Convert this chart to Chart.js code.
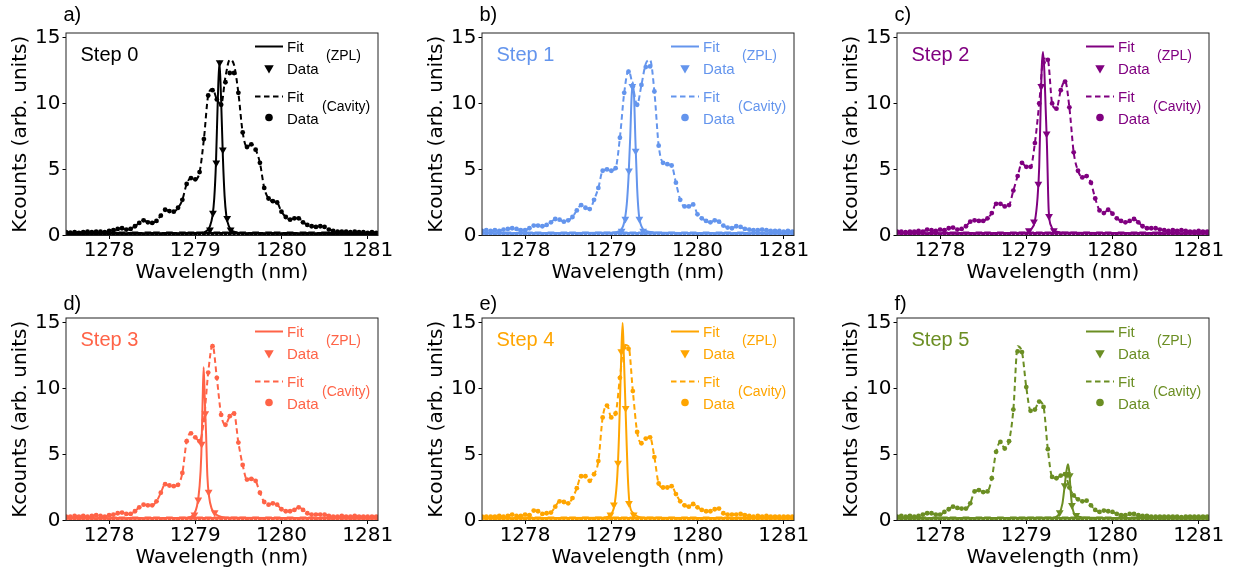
<!DOCTYPE html>
<html><head><meta charset="utf-8">
<script src="https://cdn.jsdelivr.net/npm/chart.js@4.4.1/dist/chart.umd.min.js"></script>
<style>
html,body{margin:0;padding:0;background:#fff;}
body{width:1234px;height:571px;position:relative;overflow:hidden;}
canvas{position:absolute;}
</style></head><body>
<canvas id="c0" width="400" height="285" style="left:0px;top:0px"></canvas>
<canvas id="c1" width="400" height="285" style="left:416px;top:0px"></canvas>
<canvas id="c2" width="400" height="285" style="left:831px;top:0px"></canvas>
<canvas id="c3" width="400" height="285" style="left:0px;top:285px"></canvas>
<canvas id="c4" width="400" height="285" style="left:416px;top:285px"></canvas>
<canvas id="c5" width="400" height="285" style="left:831px;top:285px"></canvas>
<script>
// ---------- data ----------
const panelLabels = ['a)','b)','c)','d)','e)','f)'];
const stepLabels = ['Step 0','Step 1','Step 2','Step 3','Step 4','Step 5'];
const xTicks = [1278,1279,1280,1281];
const yTicks = [0,5,10,15];
const xTitle = 'Wavelength (nm)';
const yTitle = 'Kcounts (arb. units)';
const legendFit = 'Fit', legendData = 'Data', legendZPL = '(ZPL)', legendCavity = '(Cavity)';

const wavelength = [1277.5,1277.55,1277.6,1277.65,1277.7,1277.75,1277.8,1277.85,1277.9,1277.95,
 1278,1278.05,1278.1,1278.15,1278.2,1278.25,1278.3,1278.35,1278.4,1278.45,
 1278.5,1278.55,1278.6,1278.65,1278.7,1278.75,1278.8,1278.85,1278.9,1278.95,
 1279,1279.05,1279.1,1279.15,1279.2,1279.25,1279.3,1279.35,1279.4,1279.45,
 1279.5,1279.55,1279.6,1279.65,1279.7,1279.75,1279.8,1279.85,1279.9,1279.95,
 1280,1280.05,1280.1,1280.15,1280.2,1280.25,1280.3,1280.35,1280.4,1280.45,
 1280.5,1280.55,1280.6,1280.65,1280.7,1280.75,1280.8,1280.85,1280.9,1280.95,
 1281,1281.05,1281.1];

// ZPL spectrum away from the line (baseline counts, same grid)
const zplBaseline = [0.15,0.12,0.15,0.1,0.15,0.12,0.15,0.1,0.12,0.15,
 0.1,0.15,0.12,0.15,0.1,0.12,0.15,0.12,0.1,0.15,
 0.12,0.15,0.1,0.12,0.15,0.12,0.1,0.15,0.12,0.15,
 0.12,0.15,0.12,0.15,0.12,0.15,0.12,0.15,0.12,0.15,
 0.12,0.15,0.1,0.12,0.15,0.12,0.1,0.15,0.12,0.15,
 0.1,0.12,0.15,0.12,0.1,0.15,0.12,0.15,0.1,0.12,
 0.15,0.12,0.1,0.15,0.12,0.15,0.1,0.12,0.15,0.12,
 0.1,0.15,0.12];

const cavData0 = [0.25,0.22,0.25,0.2,0.25,0.3,0.25,0.3,0.3,0.25,
 0.35,0.4,0.5,0.55,0.45,0.5,0.7,0.95,1.15,1.0,
 0.95,1.1,1.5,1.95,1.85,1.8,2.1,2.7,3.9,4.35,
 4.25,4.8,7.3,10.6,11.0,10.3,9.9,11.6,12.3,12.3,
 10.8,7.8,6.7,6.9,6.5,5.5,3.6,2.8,2.6,2.5,
 1.8,1.4,1.2,1.3,1.3,1.0,0.8,0.7,0.65,0.7,
 0.65,0.45,0.35,0.3,0.3,0.3,0.25,0.3,0.25,0.25,
 0.2,0.25,0.2];
const cavFit0 = [0.25,0.22,0.25,0.2,0.25,0.3,0.25,0.3,0.3,0.25,
 0.35,0.4,0.5,0.55,0.45,0.5,0.7,0.95,1.15,1.0,
 0.95,1.1,1.5,1.95,1.85,1.8,2.1,2.7,3.9,4.35,
 4.25,4.8,7.3,10.6,11.1,10.3,9.9,12.0,13.3,12.9,
 10.8,7.8,6.7,6.9,6.5,5.5,3.6,2.8,2.6,2.5,
 1.8,1.4,1.2,1.3,1.3,1.0,0.8,0.7,0.65,0.7,
 0.65,0.45,0.35,0.3,0.3,0.3,0.25,0.3,0.25,0.25,
 0.2,0.25,0.2];

const cavData1 = [0.35,0.4,0.35,0.4,0.35,0.45,0.5,0.55,0.5,0.4,
 0.4,0.55,0.75,0.75,0.7,0.8,1.0,1.25,1.2,1.05,
 1.15,1.4,1.9,2.3,2.1,2.0,2.7,3.6,4.9,5.0,
 4.9,5.1,7.4,10.8,12.4,11.3,9.9,11.4,12.75,12.8,
 10.9,6.8,5.5,5.4,5.3,4.0,2.7,2.2,2.2,2.35,
 1.6,1.3,1.1,1.0,1.15,1.05,0.75,0.6,0.55,0.7,
 0.65,0.5,0.45,0.4,0.4,0.45,0.4,0.35,0.35,0.35,
 0.3,0.35,0.3];
const cavFit1 = [0.35,0.4,0.35,0.4,0.35,0.45,0.5,0.55,0.5,0.4,
 0.4,0.55,0.75,0.75,0.7,0.8,1.0,1.25,1.2,1.05,
 1.15,1.4,1.9,2.3,2.1,2.0,2.7,3.6,4.9,5.0,
 4.9,5.1,7.4,10.8,12.5,11.3,9.9,11.4,13.0,13.3,
 10.9,6.8,5.5,5.4,5.3,4.0,2.7,2.2,2.2,2.35,
 1.6,1.3,1.1,1.0,1.15,1.05,0.75,0.6,0.55,0.7,
 0.65,0.5,0.45,0.4,0.4,0.45,0.4,0.35,0.35,0.35,
 0.3,0.35,0.3];

const cavData2 = [0.3,0.3,0.25,0.3,0.3,0.35,0.3,0.45,0.4,0.35,
 0.45,0.4,0.55,0.6,0.45,0.5,0.7,1.05,1.15,1.1,
 1.1,1.3,1.7,2.4,2.4,2.2,2.3,3.4,4.5,5.5,
 5.2,5.2,7.0,10.0,13.1,13.3,10.0,9.6,11.0,11.65,
 9.7,6.3,4.9,4.4,4.5,4.0,2.8,1.9,1.7,1.95,
 1.65,1.3,1.1,1.0,1.1,1.25,1.0,0.7,0.55,0.55,
 0.55,0.45,0.4,0.35,0.4,0.35,0.4,0.35,0.3,0.3,
 0.35,0.3,0.3];
const cavFit2 = [0.3,0.3,0.25,0.3,0.3,0.35,0.3,0.45,0.4,0.35,
 0.45,0.4,0.55,0.6,0.45,0.5,0.7,1.05,1.15,1.1,
 1.1,1.3,1.7,2.4,2.4,2.2,2.3,3.4,4.5,5.5,
 5.2,5.2,7.0,10.0,13.4,13.3,10.0,9.6,11.0,11.7,
 9.7,6.3,4.9,4.4,4.5,4.0,2.8,1.9,1.7,1.95,
 1.65,1.3,1.1,1.0,1.1,1.25,1.0,0.7,0.55,0.55,
 0.55,0.45,0.4,0.35,0.4,0.35,0.4,0.35,0.3,0.3,
 0.35,0.3,0.3];

const cavData3 = [0.3,0.3,0.35,0.3,0.35,0.3,0.35,0.4,0.35,0.3,
 0.4,0.45,0.55,0.6,0.5,0.5,0.7,1.0,1.2,1.15,
 1.15,1.45,2.1,2.75,2.65,2.6,2.7,3.6,6.0,6.6,
 6.3,6.0,7.6,11.2,13.2,10.8,8.0,7.25,7.9,8.1,
 5.9,4.2,3.1,3.15,3.0,2.1,1.4,1.2,1.3,1.2,
 0.85,0.7,0.7,0.8,1.0,0.8,0.55,0.45,0.45,0.45,
 0.45,0.35,0.3,0.3,0.35,0.3,0.3,0.35,0.3,0.3,
 0.3,0.3,0.3];
const cavFit3 = [0.3,0.3,0.35,0.3,0.35,0.3,0.35,0.4,0.35,0.3,
 0.4,0.45,0.55,0.6,0.5,0.5,0.7,1.0,1.2,1.15,
 1.15,1.45,2.1,2.75,2.65,2.6,2.7,3.6,6.0,6.6,
 6.3,6.0,7.6,11.2,13.3,10.8,8.0,7.25,7.9,8.1,
 5.9,4.2,3.1,3.15,3.0,2.1,1.4,1.2,1.3,1.2,
 0.85,0.7,0.7,0.8,1.0,0.8,0.55,0.45,0.45,0.45,
 0.45,0.35,0.3,0.3,0.35,0.3,0.3,0.35,0.3,0.3,
 0.3,0.3,0.3];

const cavData4 = [0.3,0.3,0.3,0.3,0.35,0.3,0.35,0.45,0.35,0.35,
 0.45,0.4,0.75,0.7,0.5,0.55,0.6,1.05,1.45,1.4,
 1.3,1.7,2.45,3.35,3.35,3.0,3.5,4.5,7.8,8.7,
 7.8,8.1,10.8,13.1,13.0,9.8,6.7,5.85,6.2,6.3,
 4.8,2.8,2.5,2.5,2.6,2.0,1.45,1.15,1.05,1.25,
 1.0,0.8,0.7,0.7,0.85,0.9,0.55,0.45,0.45,0.45,
 0.5,0.4,0.35,0.3,0.35,0.3,0.35,0.3,0.3,0.3,
 0.3,0.3,0.3];
const cavFit4 = [0.3,0.3,0.3,0.3,0.35,0.3,0.35,0.45,0.35,0.35,
 0.45,0.4,0.75,0.7,0.5,0.55,0.6,1.05,1.45,1.4,
 1.3,1.7,2.45,3.35,3.35,3.0,3.5,4.5,7.8,8.75,
 7.8,8.1,10.8,13.3,13.2,9.8,6.7,5.85,6.2,6.3,
 4.8,2.8,2.5,2.5,2.6,2.0,1.45,1.15,1.05,1.25,
 1.0,0.8,0.7,0.7,0.85,0.9,0.55,0.45,0.45,0.45,
 0.5,0.4,0.35,0.3,0.35,0.3,0.35,0.3,0.3,0.3,
 0.3,0.3,0.3];

const cavData5 = [0.3,0.35,0.3,0.35,0.3,0.35,0.45,0.55,0.55,0.45,
 0.45,0.65,0.85,1.05,0.95,0.9,0.9,1.3,2.2,2.3,
 2.15,2.2,3.2,5.2,5.95,5.45,6.0,8.4,12.8,12.75,
 10.1,8.3,8.4,9.0,8.6,5.4,3.3,3.2,3.4,3.5,
 2.5,1.9,1.6,1.45,1.5,1.15,0.8,0.65,0.75,0.7,
 0.65,0.5,0.4,0.4,0.5,0.5,0.4,0.35,0.35,0.3,
 0.3,0.3,0.3,0.3,0.3,0.3,0.25,0.3,0.3,0.3,
 0.3,0.3,0.3];
const cavFit5 = [0.3,0.35,0.3,0.35,0.3,0.35,0.45,0.55,0.55,0.45,
 0.45,0.65,0.85,1.05,0.95,0.9,0.9,1.3,2.2,2.3,
 2.15,2.2,3.2,5.2,5.95,5.45,6.0,8.4,13.2,12.75,
 10.1,8.3,8.4,9.0,8.6,5.4,3.3,3.2,3.4,3.5,
 2.5,1.9,1.6,1.45,1.5,1.15,0.8,0.65,0.75,0.7,
 0.65,0.5,0.4,0.4,0.5,0.5,0.4,0.35,0.35,0.3,
 0.3,0.3,0.3,0.3,0.3,0.3,0.25,0.3,0.3,0.3,
 0.3,0.3,0.3];

const zplDataX0 = [1279.17,1279.205,1279.244,1279.283,1279.32,1279.37,1279.41];
const zplDataY0 = [0.43,1.7,5.5,13.1,6.5,1.3,0.43];
const zplDataX1 = [1279.12,1279.163,1279.205,1279.244,1279.283,1279.326,1279.37];
const zplDataY1 = [0.35,1.25,4.9,11.3,6.4,1.25,0.35];
const zplDataX2 = [1279.03,1279.089,1279.14,1279.174,1279.236,1279.264,1279.32];
const zplDataY2 = [0.38,1.05,3.9,11.3,7.7,1.45,0.38];
const zplDataX3 = [1278.99,1279.035,1279.074,1279.116,1279.155,1279.225];
const zplDataY3 = [0.43,1.57,5.8,8.1,2.15,0.6];
const zplDataX4 = [1278.99,1279.03,1279.078,1279.116,1279.167,1279.205,1279.26];
const zplDataY4 = [0.43,1.2,4.35,12.8,8.5,1.3,0.43];
const zplDataX5 = [1279.388,1279.446,1279.473,1279.504,1279.53,1279.58];
const zplDataY5 = [0.6,2.65,3.5,3.4,1.15,0.4];

const zplFitX0 = [1277.5,1279.0,1279.12,1279.17,1279.2,1279.22,1279.24,1279.26,1279.28,1279.3,1279.32,1279.34,1279.36,1279.39,1279.44,1279.6,1281.1];
const zplFitY0 = [0.12,0.15,0.3,0.7,1.5,2.8,5.5,10.0,13.2,10.2,6.0,3.0,1.5,0.7,0.3,0.15,0.12];
const zplFitX1 = [1277.5,1279.0,1279.1,1279.15,1279.18,1279.2,1279.22,1279.235,1279.25,1279.265,1279.28,1279.3,1279.32,1279.35,1279.4,1279.6,1281.1];
const zplFitY1 = [0.15,0.2,0.35,1.0,2.4,4.4,7.5,10.4,11.6,10.4,7.2,3.6,1.6,0.7,0.35,0.2,0.15];
const zplFitX2 = [1277.5,1279.0,1279.06,1279.1,1279.13,1279.15,1279.17,1279.18,1279.194,1279.21,1279.225,1279.24,1279.26,1279.29,1279.34,1279.5,1281.1];
const zplFitY2 = [0.15,0.2,0.5,1.1,2.8,5.2,10.6,12.8,13.9,12.4,9.6,6.8,1.9,0.7,0.3,0.2,0.15];
const zplFitX3 = [1277.5,1278.9,1278.98,1279.02,1279.05,1279.07,1279.085,1279.097,1279.11,1279.125,1279.14,1279.16,1279.19,1279.24,1279.4,1281.1];
const zplFitY3 = [0.15,0.2,0.45,1.1,2.6,5.0,9.0,11.6,9.2,6.6,3.4,1.8,0.9,0.45,0.2,0.15];
const zplFitX4 = [1277.5,1278.9,1279.0,1279.04,1279.07,1279.09,1279.105,1279.118,1279.132,1279.145,1279.16,1279.175,1279.19,1279.21,1279.25,1279.4,1281.1];
const zplFitY4 = [0.15,0.2,0.5,1.3,3.4,6.5,10.0,13.0,14.95,12.6,9.6,6.5,3.6,1.4,0.6,0.2,0.15];
const zplFitX5 = [1277.5,1279.3,1279.38,1279.42,1279.445,1279.465,1279.484,1279.5,1279.515,1279.53,1279.55,1279.6,1279.75,1281.1];
const zplFitY5 = [0.15,0.2,0.5,1.3,2.6,3.7,4.25,3.6,2.2,1.2,0.6,0.3,0.2,0.15];

const panelColors = ['#000000','#6495ED','#800080','#FF6347','#FFA500','#6B8E23'];

// ---------- assembly ----------
const cavData = [cavData0,cavData1,cavData2,cavData3,cavData4,cavData5];
const cavFit = [cavFit0,cavFit1,cavFit2,cavFit3,cavFit4,cavFit5];
const zplDataX = [zplDataX0,zplDataX1,zplDataX2,zplDataX3,zplDataX4,zplDataX5];
const zplDataY = [zplDataY0,zplDataY1,zplDataY2,zplDataY3,zplDataY4,zplDataY5];
const zplFitX = [zplFitX0,zplFitX1,zplFitX2,zplFitX3,zplFitX4,zplFitX5];
const zplFitY = [zplFitY0,zplFitY1,zplFitY2,zplFitY3,zplFitY4,zplFitY5];
const pts = (xs, ys) => xs.map((x, i) => ({x: x, y: ys[i]}));

const SANS = '"Liberation Sans", Arial, Helvetica, sans-serif';
const DEJA = 'DejaVu Sans';

const decor = {
  id: 'decor',
  afterDraw(chart, args, o) {
    const ctx = chart.ctx;
    const {left, right, top, bottom} = chart.chartArea;
    const col = o.color;
    ctx.save();
    ctx.setLineDash([]);
    ctx.strokeStyle = '#222';
    ctx.lineWidth = 1;
    ctx.strokeRect(left, top, right - left, bottom - top);
    ctx.textAlign = 'left';
    ctx.textBaseline = 'alphabetic';
    ctx.fillStyle = '#000';
    ctx.font = '20px ' + SANS;
    ctx.fillText(o.panel, left - 2.5, top + o.labelDy);
    ctx.fillStyle = col;
    ctx.font = '20px ' + SANS;
    ctx.fillText(o.step, left + 14.5, top + 28);
    ctx.strokeStyle = col;
    ctx.lineWidth = 2;
    ctx.beginPath(); ctx.moveTo(right - 123, top + 13.5); ctx.lineTo(right - 95, top + 13.5); ctx.stroke();
    ctx.setLineDash([5.5, 3.5]);
    ctx.beginPath(); ctx.moveTo(right - 123, top + 63.5); ctx.lineTo(right - 95, top + 63.5); ctx.stroke();
    ctx.setLineDash([]);
    const tx = right - 109, ty = top + 35, r = 5.5;
    ctx.beginPath();
    ctx.moveTo(tx - r * 0.866, ty - r * 0.5);
    ctx.lineTo(tx + r * 0.866, ty - r * 0.5);
    ctx.lineTo(tx, ty + r);
    ctx.closePath(); ctx.fill();
    ctx.beginPath(); ctx.arc(right - 109, top + 84.5, 3.8, 0, Math.PI * 2); ctx.fill();
    ctx.font = '15px ' + SANS;
    ctx.fillText(legendFit, right - 91, top + 19);
    ctx.fillText(legendData, right - 91, top + 40.5);
    ctx.fillText(legendFit, right - 91, top + 69);
    ctx.fillText(legendData, right - 91, top + 90.5);
    ctx.font = '14px ' + SANS;
    ctx.fillText(legendZPL, right - 52, top + 26.7);
    ctx.fillText(legendCavity, right - 56, top + 78.4);
    ctx.restore();
  }
};

function makeChart(i) {
  const col = panelColors[i];
  new Chart(document.getElementById('c' + i), {
    type: 'scatter',
    data: {
      datasets: [
        {label: 'ZPL data', data: pts(zplDataX[i], zplDataY[i]), showLine: false,
         pointStyle: 'triangle', pointRotation: 180, pointRadius: 4.5,
         pointBackgroundColor: col, pointBorderWidth: 0, borderColor: col},
        {label: 'ZPL fit', data: pts(zplFitX[i], zplFitY[i]), showLine: true,
         pointRadius: 0, borderColor: col, borderWidth: 2, cubicInterpolationMode: 'monotone'},
        {label: 'ZPL data (baseline)', data: pts(wavelength, zplBaseline), showLine: false,
         pointStyle: 'triangle', pointRotation: 180, pointRadius: 4,
         pointBackgroundColor: col, pointBorderWidth: 0, borderColor: col},
        {label: 'Cavity data', data: pts(wavelength, cavData[i]), showLine: false,
         pointRadius: 2.4, pointBackgroundColor: col, pointBorderWidth: 0, borderColor: col},
        {label: 'Cavity fit', data: pts(wavelength, cavFit[i]), showLine: true,
         pointRadius: 0, borderColor: col, borderWidth: 2, borderDash: [5.5, 3.5],
         cubicInterpolationMode: 'monotone'}
      ]
    },
    options: {
      responsive: false, animation: false, devicePixelRatio: 1, events: [],
      layout: {padding: {top: 33, right: 22, left: 0, bottom: 0}},
      plugins: {
        legend: {display: false}, tooltip: {enabled: false},
        decor: {color: col, panel: panelLabels[i], step: stepLabels[i], labelDy: i < 3 ? -12 : -8}
      },
      scales: {
        x: {
          type: 'linear', min: 1277.5, max: 1281.12,
          afterBuildTicks: s => { s.ticks = xTicks.map(v => ({value: v})); },
          afterFit: s => { s.height = 49.5; },
          ticks: {color: '#000', font: {family: DEJA, size: 20}, padding: 0, maxRotation: 0, autoSkip: false,
                  callback: v => String(v)},
          grid: {drawOnChartArea: false, drawTicks: true, tickLength: 3.5, tickColor: '#000', tickWidth: 1},
          border: {display: false},
          title: {display: true, text: xTitle, color: '#000', font: {family: DEJA, size: 20}, padding: {top: 0, bottom: 0}}
        },
        y: {
          type: 'linear', min: 0, max: 15.33,
          afterBuildTicks: s => { s.ticks = yTicks.map(v => ({value: v})); },
          afterFit: s => { s.width = 66; },
          ticks: {color: '#000', font: {family: DEJA, size: 20}, padding: 2, autoSkip: false,
                  callback: v => String(v)},
          grid: {drawOnChartArea: false, drawTicks: true, tickLength: 3.5, tickColor: '#000', tickWidth: 1},
          border: {display: false},
          title: {display: true, text: yTitle, color: '#000', font: {family: DEJA, size: 20}, padding: {top: 9, bottom: 0}}
        }
      }
    },
    plugins: [decor]
  });
}
for (let i = 0; i < 6; i++) makeChart(i);
</script>
</body></html>
